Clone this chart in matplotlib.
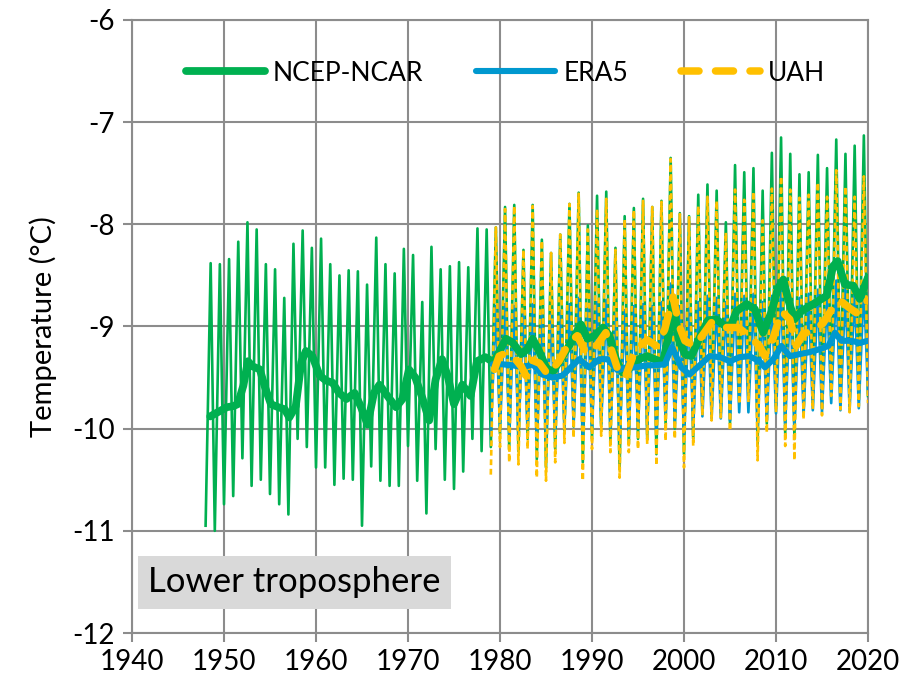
import matplotlib
matplotlib.use("Agg")
import matplotlib.pyplot as plt
import numpy as np

plt.rcParams['font.family'] = ['Lato', 'DejaVu Sans']
plt.rcParams['axes.unicode_minus'] = False

# ---------------- data ----------------
x_ticks = [1940, 1950, 1960, 1970, 1980, 1990, 2000, 2010, 2020]
y_ticks = [-12, -11, -10, -9, -8, -7, -6]

# NCEP-NCAR monthly extremes (January troughs 1948-2020, July peaks 1948-2019)
ncep_first_year = 1948
ncep_troughs = [-10.95, -11.00, -10.74, -10.66, -10.29, -10.56, -10.50, -10.64, -10.74, -10.84,
                -10.10, -10.18, -10.38, -10.38, -10.55, -10.49, -10.50, -10.95, -10.37, -10.51,
                -10.56, -10.56, -10.17, -10.51, -10.83, -10.20, -10.50, -10.59, -10.42, -10.10,
                -10.22, -10.18,
                -10.05, -10.20, -10.22, -10.10, -10.30, -10.38, -10.20, -10.02, -9.98, -10.33,
                -10.10, -9.97, -10.12, -10.40, -10.15, -10.10, -10.10, -10.25, -9.95, -10.00,
                -10.25, -10.10, -9.82, -9.85, -9.85, -9.95, -9.70, -9.70, -10.15, -9.95,
                -9.78, -10.05, -10.10, -9.85, -9.75, -9.80, -9.62, -9.75, -9.78, -9.72, -9.68]
ncep_peaks = [-8.38, -8.39, -8.34, -8.17, -7.98, -8.05, -8.39, -8.44, -8.72, -8.19,
              -8.06, -8.23, -8.14, -8.39, -8.50, -8.45, -8.46, -8.59, -8.13, -8.39,
              -8.48, -8.24, -8.30, -8.76, -8.22, -8.44, -8.41, -8.37, -8.42, -8.04,
              -8.05, -8.03,
              -7.83, -7.81, -8.25, -7.81, -8.15, -8.28, -8.10, -7.80, -7.69, -8.01,
              -7.72, -7.68, -8.23, -7.92, -7.84, -7.75, -7.83, -7.77, -7.35, -7.89,
              -7.92, -7.71, -7.61, -7.67, -7.98, -7.42, -7.49, -7.45, -7.67, -7.30,
              -7.15, -7.31, -7.51, -7.49, -7.32, -7.45, -7.17, -7.31, -7.23, -7.13]

# ERA5 monthly extremes (troughs 1979-2020, peaks 1979-2019)
era5_first_year = 1979
era5_troughs = [-10.05, -10.00, -10.05, -10.05, -10.00, -10.10, -10.12, -10.05, -9.98, -9.95,
                -10.08, -10.00, -9.95, -10.00, -10.10, -10.02, -10.00, -9.98, -10.05, -9.90,
                -9.95, -10.05, -9.98, -9.88, -9.90, -9.90, -9.92, -9.84, -9.84, -10.00,
                -9.92, -9.85, -9.95, -9.98, -9.86, -9.82, -9.84, -9.75, -9.82, -9.82,
                -9.80, -9.65]
era5_peaks = [-8.80, -8.78, -8.80, -8.85, -8.78, -8.85, -8.88, -8.85, -8.78, -8.72,
              -8.82, -8.76, -8.74, -8.88, -8.84, -8.80, -8.78, -8.80, -8.76, -8.58,
              -8.80, -8.82, -8.76, -8.70, -8.72, -8.76, -8.68, -8.70, -8.68, -8.76,
              -8.70, -8.60, -8.70, -8.72, -8.68, -8.64, -8.66, -8.55, -8.62, -8.62, -8.58]

# UAH monthly extremes (troughs 1979-2020, peaks 1979-2019)
uah_first_year = 1979
uah_troughs = [-10.45, -10.18, -10.33, -10.35, -10.20, -10.48, -10.51, -10.33, -10.14, -10.09,
               -10.51, -10.20, -10.07, -10.23, -10.48, -10.23, -10.20, -10.15, -10.36, -10.12,
               -10.10, -10.38, -10.17, -9.87, -9.92, -9.89, -10.02, -9.76, -9.74, -10.31,
               -10.04, -9.84, -10.17, -10.31, -9.91, -9.81, -9.87, -9.68, -9.81, -9.84,
               -9.78, -9.75]
uah_peaks = [-8.03, -7.85, -7.82, -8.25, -7.82, -8.16, -8.28, -8.10, -7.80, -7.70,
             -8.05, -7.85, -7.75, -8.25, -7.95, -7.86, -7.77, -7.83, -7.78, -7.36,
             -7.90, -7.93, -7.82, -7.73, -7.77, -8.08, -7.66, -7.76, -7.68, -7.96,
             -7.65, -7.53, -7.66, -7.74, -7.71, -7.59, -7.73, -7.47, -7.63, -7.73, -7.53]

# 12-month running means
ncep_smooth_t = [1948.5, 1949.5, 1950.3, 1951.0, 1951.5, 1952.1, 1952.6, 1953.1, 1953.9, 1954.4,
                 1955.1, 1955.9, 1956.6, 1957.1, 1957.8, 1958.4, 1958.9, 1959.6, 1960.4, 1961.1,
                 1961.8, 1962.5, 1963.3, 1964.2, 1964.9, 1965.6, 1966.3, 1966.9, 1967.6, 1968.7,
                 1969.4, 1970.1, 1970.8, 1971.6, 1972.3, 1973.0, 1973.7, 1974.3, 1975.0, 1975.9,
                 1976.8, 1977.5, 1978.4, 1979.3, 1979.9, 1980.65, 1981.4, 1982.3, 1983.0, 1983.55,
                 1984.3, 1985.0, 1985.7, 1986.6, 1987.5, 1988.3, 1988.8, 1989.5, 1990.3, 1991.2,
                 1991.9, 1992.6, 1993.3, 1994.2, 1995.1, 1996.0, 1996.8, 1997.7, 1998.4, 1998.8,
                 1999.4, 2000.1, 2000.8, 2001.7, 2002.6, 2003.5, 2004.4, 2005.1, 2005.7, 2006.8,
                 2007.7, 2008.6, 2009.5, 2010.2, 2010.8, 2011.3, 2012.0, 2012.75, 2013.7, 2014.6,
                 2015.5, 2016.2, 2016.7, 2017.5, 2018.4, 2019.1, 2020.0]
ncep_smooth = [-9.88, -9.83, -9.79, -9.78, -9.76, -9.58, -9.34, -9.39, -9.42, -9.58,
               -9.76, -9.79, -9.81, -9.89, -9.78, -9.35, -9.24, -9.29, -9.48, -9.53,
               -9.55, -9.65, -9.71, -9.65, -9.79, -9.96, -9.65, -9.57, -9.66, -9.79,
               -9.71, -9.42, -9.50, -9.71, -9.92, -9.52, -9.32, -9.48, -9.76, -9.57,
               -9.68, -9.34, -9.30, -9.35, -9.25, -9.12, -9.16, -9.27, -9.22, -9.12,
               -9.25, -9.40, -9.45, -9.32, -9.19, -9.06, -8.98, -9.12, -9.09, -9.01,
               -9.09, -9.32, -9.45, -9.40, -9.32, -9.29, -9.32, -9.35, -9.06, -8.75,
               -9.12, -9.27, -9.29, -9.11, -8.94, -8.93, -8.99, -8.99, -8.85, -8.78,
               -8.83, -9.06, -8.86, -8.63, -8.54, -8.73, -8.93, -8.85, -8.80, -8.75,
               -8.70, -8.41, -8.36, -8.59, -8.60, -8.73, -8.52]

era5_smooth_t = [1979.2, 1980.3, 1981.4, 1982.5, 1983.55, 1984.6, 1985.7, 1986.8, 1987.7, 1988.6,
                 1989.7, 1990.8, 1991.7, 1992.8, 1993.7, 1994.8, 1995.9, 1996.8, 1997.9, 1998.7,
                 1999.7, 2000.6, 2001.7, 2002.8, 2003.9, 2005.0, 2006.05, 2007.1, 2008.2, 2008.8,
                 2009.7, 2010.6, 2011.5, 2012.6, 2013.7, 2014.8, 2015.7, 2016.4, 2017.1, 2018.2,
                 2019.1, 2020.0]
era5_smooth = [-9.37, -9.37, -9.38, -9.40, -9.37, -9.47, -9.50, -9.48, -9.40, -9.32,
               -9.40, -9.32, -9.32, -9.43, -9.40, -9.40, -9.38, -9.38, -9.37, -9.20,
               -9.40, -9.47, -9.38, -9.29, -9.30, -9.34, -9.30, -9.29, -9.34, -9.40,
               -9.32, -9.19, -9.29, -9.27, -9.25, -9.22, -9.19, -9.06, -9.14, -9.14,
               -9.16, -9.14]

uah_smooth_t = [1979.4, 1979.9, 1980.65, 1981.5, 1982.3, 1982.8, 1983.5, 1984.3, 1985.2, 1986.4,
                1987.5, 1988.4, 1989.35, 1990.4, 1991.5, 1992.8, 1993.6, 1994.7, 1996.0, 1997.0,
                1997.9, 1998.8, 1999.5, 2000.1, 2001.2, 2001.9, 2003.0, 2004.1, 2005.9, 2006.9,
                2008.2, 2008.8, 2009.7, 2010.6, 2011.5, 2012.2, 2012.95, 2013.85, 2015.1, 2016.0,
                2016.9, 2018.0, 2018.8, 2019.8, 2020.0]
uah_smooth = [-9.42, -9.29, -9.26, -9.30, -9.39, -9.48, -9.33, -9.36, -9.47, -9.34,
              -9.16, -9.09, -9.26, -9.20, -9.06, -9.42, -9.50, -9.23, -9.13, -9.19,
              -9.03, -8.71, -9.00, -9.14, -9.19, -9.10, -8.96, -9.01, -9.01, -9.08,
              -9.19, -9.29, -9.11, -8.85, -8.93, -9.19, -9.07, -9.05, -8.97, -8.84,
              -8.74, -8.82, -8.87, -8.76, -8.74]

series_names = ["NCEP-NCAR", "ERA5", "UAH"]
panel_label = "Lower troposphere"


def zigzag(first_year, troughs, peaks):
    t, v = [], []
    for i, tr in enumerate(troughs):
        t.append(first_year + i + 0.0)
        v.append(tr)
        if i < len(peaks):
            t.append(first_year + i + 0.55)
            v.append(peaks[i])
    return t, v


GREEN = '#00B050'
BLUE = '#0098CF'
GOLD = '#FFC000'
GRID = '#8C8C8C'

fig = plt.figure(figsize=(9.12, 6.92), dpi=100)
ax = fig.add_axes([132 / 912, 59 / 692, 736 / 912, 613 / 692])

# thin monthly lines
t, v = zigzag(ncep_first_year, ncep_troughs, ncep_peaks)
ax.plot(t, v, color=GREEN, lw=1.9, zorder=3)
t, v = zigzag(era5_first_year, era5_troughs, era5_peaks)
ax.plot(t, v, color=BLUE, lw=1.9, zorder=3.1)
t, v = zigzag(uah_first_year, uah_troughs, uah_peaks)
ax.plot(t, v, color=GOLD, lw=1.9, zorder=3.2, dashes=(2.2, 1.4))

# thick smoothed lines
l1, = ax.plot(ncep_smooth_t, ncep_smooth, color=GREEN, lw=5.6, zorder=4,
              solid_capstyle='round', solid_joinstyle='round', label=series_names[0])
l2, = ax.plot(era5_smooth_t, era5_smooth, color=BLUE, lw=4.4, zorder=4.1,
              solid_capstyle='round', solid_joinstyle='round', label=series_names[1])
l3, = ax.plot(uah_smooth_t, uah_smooth, color=GOLD, lw=5.4, zorder=4.2,
              dashes=(2.4, 2.2), dash_capstyle='round', dash_joinstyle='round',
              label=series_names[2])

ax.set_xlim(1940, 2020)
ax.set_ylim(-12, -6)
ax.set_xticks(x_ticks)
ax.set_yticks(y_ticks)
ax.set_yticklabels([str(y) for y in y_ticks])
ax.grid(True, color=GRID, lw=1.5, zorder=1)
for s in ax.spines.values():
    s.set_color(GRID)
    s.set_linewidth(1.5)
    s.set_zorder(1.5)
ax.tick_params(axis='both', colors=GRID, width=1.5, length=6.5, labelcolor='black',
               labelsize=20)
ax.tick_params(axis='y', pad=6)
ax.tick_params(axis='x', pad=5)
ax.set_ylabel("Temperature (°C)", fontsize=21, labelpad=11)

leg = ax.legend(handles=[l1, l2, l3], loc='center', bbox_to_anchor=(0.5075, 0.9135),
                ncol=3, frameon=False, fontsize=19, handlelength=3.0,
                handletextpad=0.3, columnspacing=2.0, borderpad=0.2)

ax.text(0.022, 0.083, panel_label, transform=ax.transAxes, fontsize=25,
        va='center', ha='left', zorder=6,
        bbox=dict(boxstyle='square,pad=0.3', facecolor='#D9D9D9', edgecolor='none'))

fig.savefig('out.png', dpi=100)
